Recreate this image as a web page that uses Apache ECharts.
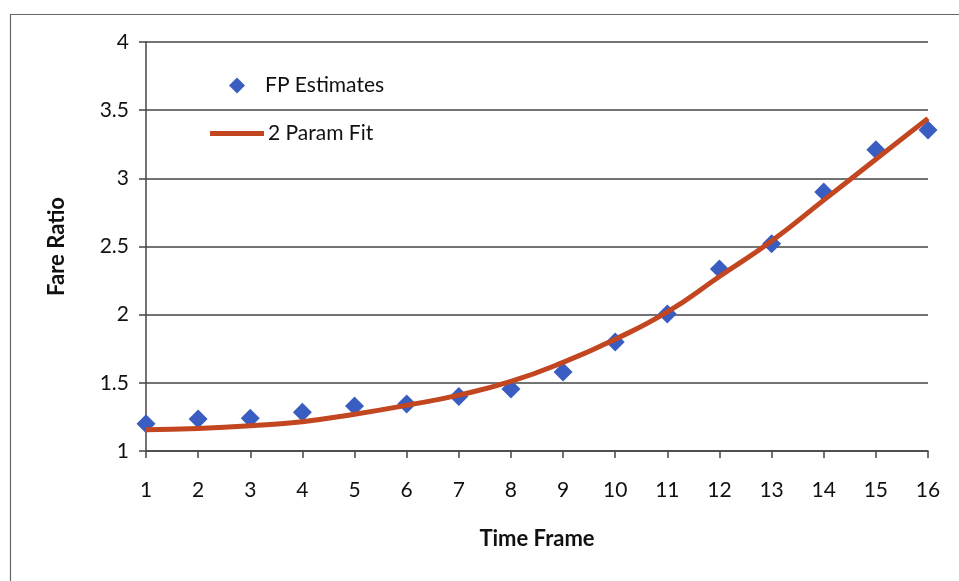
<!DOCTYPE html>
<html>
<head>
<meta charset="utf-8">
<script src="https://cdn.jsdelivr.net/npm/echarts@6/dist/echarts.min.js"></script>
<style>
  html, body { margin: 0; padding: 0; background: #fff; }
  #chart { width: 959px; height: 581px; }
</style>
</head>
<body>
<div id="chart"></div>
<script>
// Time frames on the x axis
const timeFrames = [1, 2, 3, 4, 5, 6, 7, 8, 9, 10, 11, 12, 13, 14, 15, 16];
// Fare ratio estimates per time frame
const fpEstimates = [1.20, 1.235, 1.24, 1.285, 1.33, 1.345, 1.40, 1.455, 1.58, 1.80, 2.005, 2.335, 2.52, 2.90, 3.21, 3.355];
// Two-parameter fitted curve, sampled at each time frame
const paramFit = [1.155, 1.165, 1.185, 1.215, 1.27, 1.335, 1.41, 1.51, 1.65, 1.82, 2.02, 2.28, 2.54, 2.84, 3.14, 3.44];

const FONT = 'Lato, "Open Sans", sans-serif';
const BLUE = '#3A5DC1';
const RUST = '#C2461F';
const chart = echarts.init(document.getElementById('chart'));

chart.setOption({
  animation: false,
  backgroundColor: '#ffffff',
  graphic: [{
    type: 'rect',
    left: 8, top: 12,
    shape: { width: 970, height: 600 },
    style: { fill: 'none', stroke: '#666', lineWidth: 1.2 },
    silent: true, z: -1
  }],
  grid: { left: 146, right: 31, top: 42, bottom: 130 },
  legend: [
    {
      data: [{ name: 'FP Estimates', icon: 'diamond', itemStyle: { color: BLUE, opacity: 1 } }],
      left: 224, top: 70,
      itemWidth: 16, itemHeight: 16,
      textStyle: { fontFamily: FONT, fontSize: 21, color: '#111', padding: [0, 0, 0, 15] }
    },
    {
      data: [{ name: '2 Param Fit', icon: 'rect', itemStyle: { color: RUST } }],
      left: 205, top: 118,
      itemWidth: 54, itemHeight: 5,
      textStyle: { fontFamily: FONT, fontSize: 21, color: '#111', padding: [0, 0, 0, -1] }
    }
  ],
  xAxis: {
    type: 'value',
    min: 1, max: 16, interval: 1,
    name: 'Time Frame',
    nameLocation: 'middle',
    nameGap: 77,
    nameTextStyle: { fontFamily: FONT, fontSize: 22, fontWeight: 'bold', color: '#111' },
    axisLine: { show: true, lineStyle: { color: '#444', width: 1.5 } },
    axisTick: { show: true, length: 7, inside: false, lineStyle: { color: '#444', width: 1.5 } },
    axisLabel: { fontFamily: FONT, fontSize: 21, color: '#111', margin: 29 },
    splitLine: { show: false }
  },
  yAxis: {
    type: 'value',
    min: 1, max: 4, interval: 0.5,
    name: 'Fare Ratio',
    nameLocation: 'middle',
    nameGap: 78,
    nameRotate: 90,
    nameTextStyle: { fontFamily: FONT, fontSize: 22, fontWeight: 'bold', color: '#111' },
    axisLine: { show: true, lineStyle: { color: '#444', width: 1.5 } },
    axisTick: { show: true, length: 7, lineStyle: { color: '#444', width: 1.5 } },
    axisLabel: { fontFamily: FONT, fontSize: 21, color: '#111', margin: 17 },
    splitLine: { show: true, lineStyle: { color: '#444', width: 1.5 } }
  },
  series: [
    {
      name: 'FP Estimates',
      type: 'scatter',
      symbol: 'diamond',
      symbolSize: 19,
      itemStyle: { color: BLUE, opacity: 1 },
      data: timeFrames.map((t, i) => [t, fpEstimates[i]]),
      z: 3
    },
    {
      name: '2 Param Fit',
      type: 'line',
      smooth: true,
      symbol: 'none',
      lineStyle: { color: RUST, width: 5 },
      itemStyle: { color: RUST },
      data: timeFrames.map((t, i) => [t, paramFit[i]]),
      z: 4
    }
  ]
});
</script>
</body>
</html>
